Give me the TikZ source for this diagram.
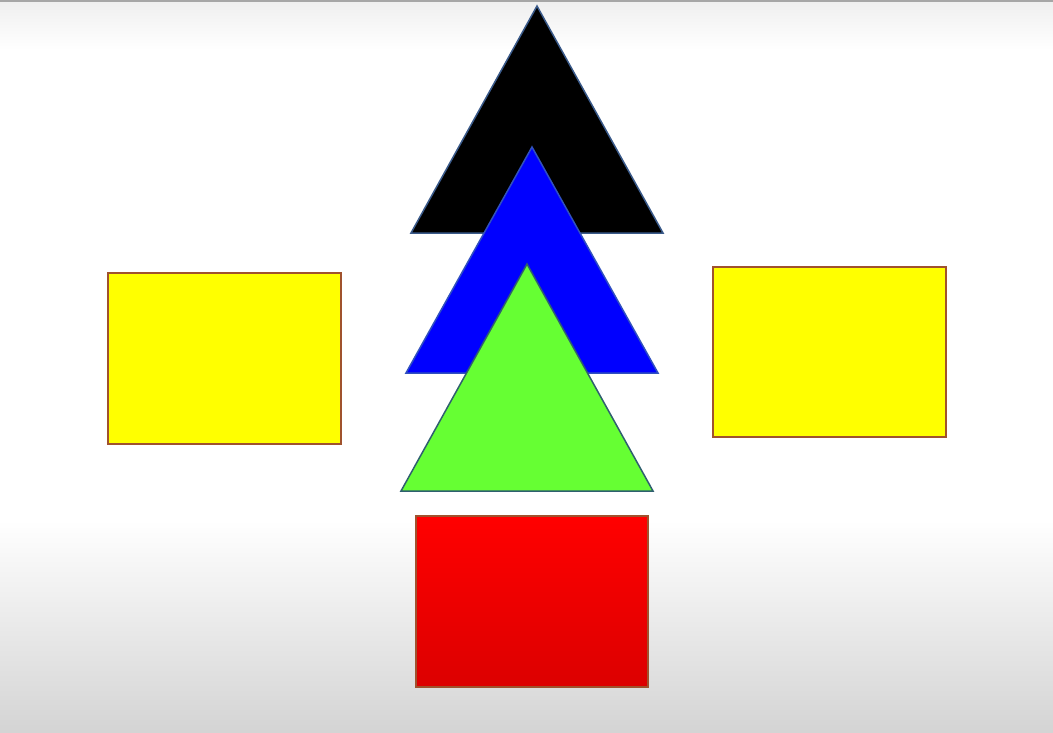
\documentclass[tikz,border=0pt]{standalone}
\definecolor{edgebrown}{HTML}{A0522D}
\definecolor{yel}{HTML}{FFFF00}
\definecolor{grn}{HTML}{66FF33}
\definecolor{blu}{HTML}{0000FF}
\definecolor{triedge}{HTML}{3A5A8A}
\definecolor{grnedge}{HTML}{2F5F6F}
\definecolor{bluedge}{HTML}{3050C0}
\definecolor{redtop}{HTML}{FF0000}
\definecolor{redbot}{HTML}{DC0000}
\definecolor{bgtop}{HTML}{EFEFEF}
\definecolor{bgbot}{HTML}{D4D4D4}
\tikzset{
  rectbox/.style={draw=edgebrown, line width=1.5pt},
  tri/.style={line width=1.5pt, line join=miter}
}
\begin{document}
\begin{tikzpicture}[x=1pt,y=-1pt]
\useasboundingbox (0,0) rectangle (1053,732);
% background
\fill[white] (0,0) rectangle (1053,732);
\shade[top color=bgtop, bottom color=white] (0,2) rectangle (1053,50);
\shade[top color=white, bottom color=bgbot] (0,520) rectangle (1053,732);
\draw[gray!70, line width=1.5pt] (0,1) -- (1053,1);
% triangles
\draw[tri, draw=triedge, fill=black] (537,6) -- (663,233) -- (411,233) -- cycle;
\draw[tri, draw=bluedge, fill=blu] (532,147) -- (658,373) -- (406,373) -- cycle;
\draw[tri, draw=grnedge, fill=grn] (527,264) -- (653,491) -- (401,491) -- cycle;
% rectangles
\draw[rectbox, fill=yel] (108,273) rectangle (341,444);
\draw[rectbox, fill=yel] (713,267) rectangle (946,437);
\shade[top color=redtop, bottom color=redbot] (416,516) rectangle (648,687);
\draw[rectbox] (416,516) rectangle (648,687);
\end{tikzpicture}
\end{document}
